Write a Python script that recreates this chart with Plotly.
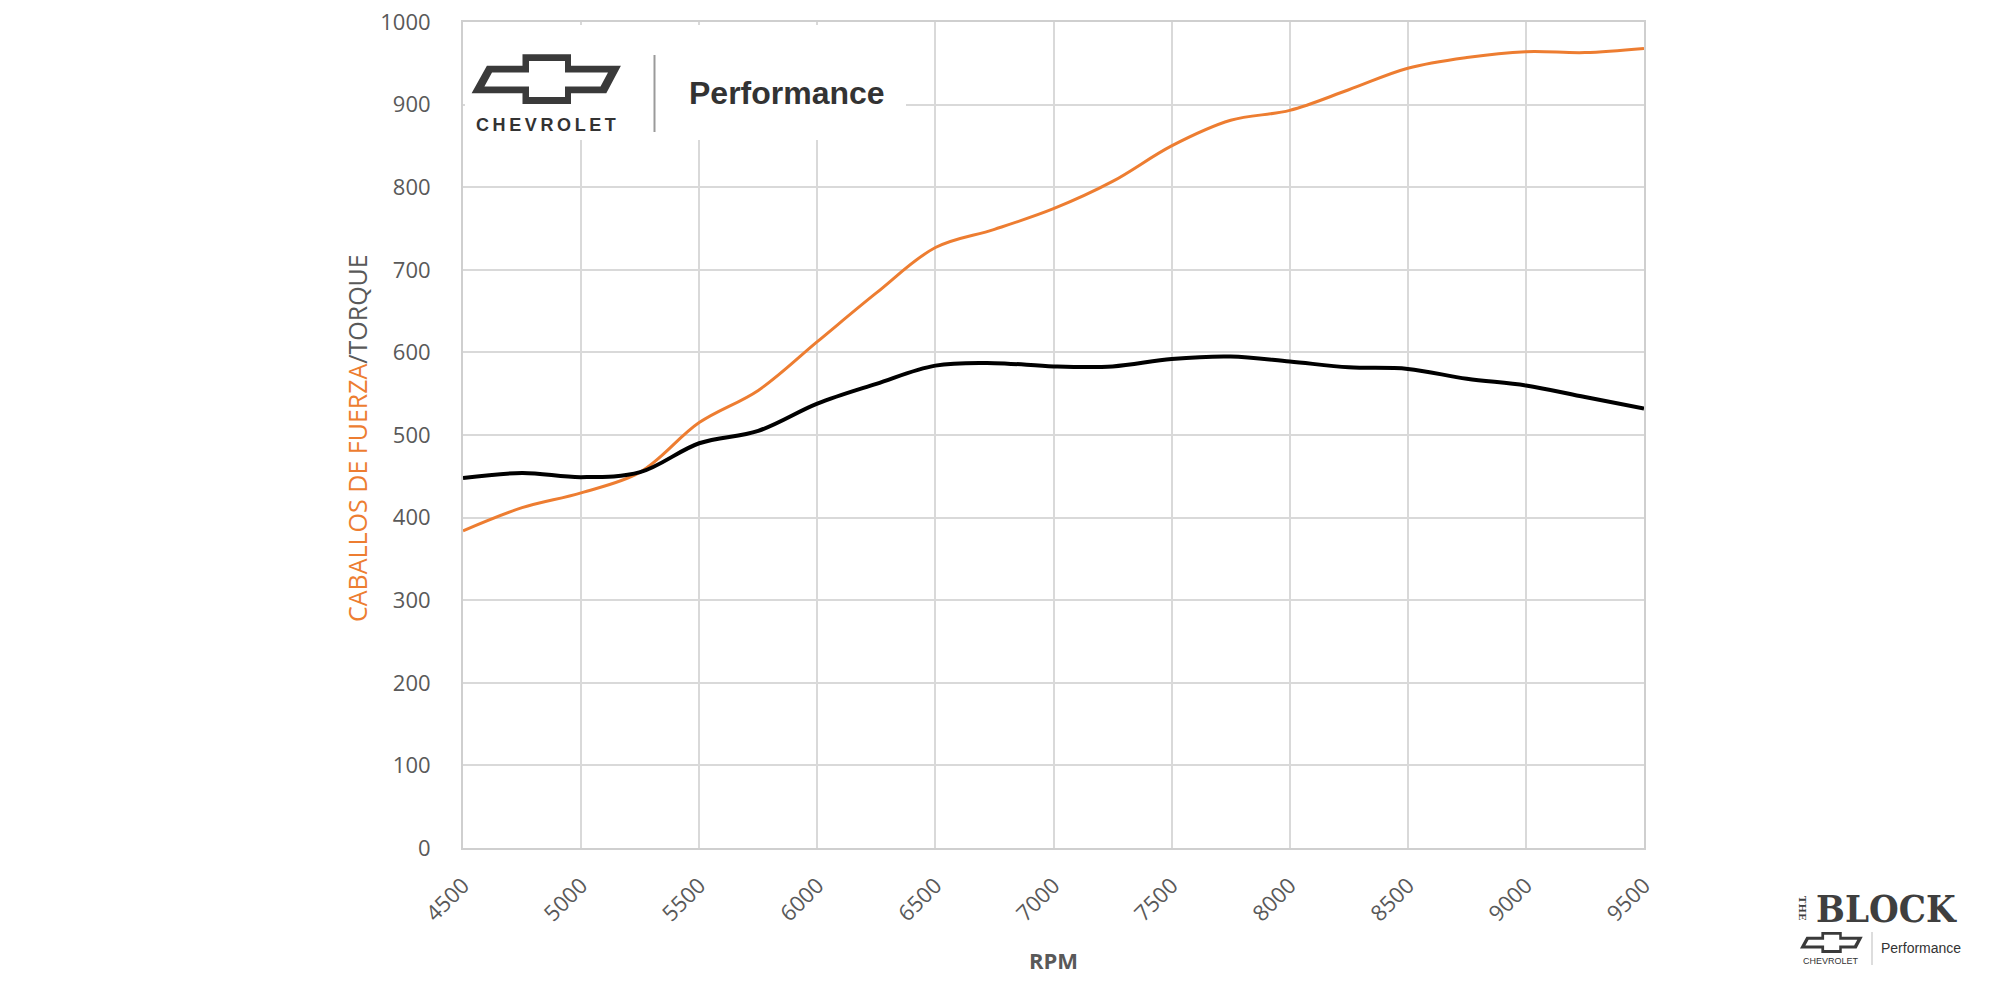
import plotly.graph_objects as go

rpm = [4500, 4750, 5000, 5250, 5500, 5750, 6000, 6250, 6500, 6750, 7000,
       7250, 7500, 7750, 8000, 8250, 8500, 8750, 9000, 9250, 9500]
caballos = [384, 412, 430, 455, 515, 554, 613, 672, 727, 749, 774,
            807, 850, 881, 893, 918, 944, 957, 964, 963, 968]
torque = [448, 454, 449, 455, 490, 505, 538, 562, 584, 587, 583,
          583, 592, 595, 589, 582, 580, 568, 560, 546, 532]
x_ticks = [4500, 5000, 5500, 6000, 6500, 7000, 7500, 8000, 8500, 9000, 9500]
y_ticks = list(range(0, 1001, 100))

ORANGE = "#ED7D31"
GRAY = "#595959"

FW, FH = 2000, 1000
# plot area in page pixels
L, R, T, B = 463, 1644, 22, 848
W, H = R - L, B - T


def px(x):
    return (x - L) / W


def py(y):
    return (B - y) / H


def poly(points, ox, oy, s):
    pts = [(px(ox + a * s), py(oy + b * s)) for a, b in points]
    return "M " + " L ".join(f"{a:.5f},{b:.5f}" for a, b in pts) + " Z"


bow_outer = [(50.9, 0), (99.4, 0), (99.4, 11.4), (149.3, 11.4), (134.7, 39), (99.4, 39),
             (99.4, 49.7), (50.9, 49.7), (50.9, 39), (0, 39), (15.3, 11.4), (50.9, 11.4)]
bow_inner = [(57.4, 6.7), (93.4, 6.7), (93.4, 18.2), (136.4, 18.2), (128.9, 32.2), (93.4, 32.2),
             (93.4, 42.7), (57.4, 42.7), (57.4, 32.2), (12.8, 32.2), (20.4, 18.2), (57.4, 18.2)]

fig = go.Figure()
fig.add_trace(go.Scatter(x=rpm, y=caballos, mode="lines", name="Caballos de fuerza",
                         line=dict(color=ORANGE, width=3, shape="spline", smoothing=1.0)))
fig.add_trace(go.Scatter(x=rpm, y=torque, mode="lines", name="Torque",
                         line=dict(color="#000000", width=4, shape="spline", smoothing=1.0)))

shapes = []
shapes.append(dict(type="rect", xref="paper", yref="paper", x0=px(465), x1=px(906),
                   y0=py(140), y1=py(25), fillcolor="white", line=dict(width=0), layer="above"))
shapes.append(dict(type="path", xref="paper", yref="paper", path=poly(bow_outer, 471.6, 54.3, 1.0),
                   fillcolor="#3a3a3a", line=dict(width=0), layer="above"))
shapes.append(dict(type="path", xref="paper", yref="paper", path=poly(bow_inner, 471.6, 54.3, 1.0),
                   fillcolor="white", line=dict(width=0), layer="above"))
shapes.append(dict(type="line", xref="paper", yref="paper", x0=px(654.5), x1=px(654.5),
                   y0=py(55), y1=py(132), line=dict(color="#9a9a9a", width=2), layer="above"))
ms = 0.42
shapes.append(dict(type="path", xref="paper", yref="paper", path=poly(bow_outer, 1800, 932, ms),
                   fillcolor="#3a3a3a", line=dict(width=0), layer="above"))
shapes.append(dict(type="path", xref="paper", yref="paper", path=poly(bow_inner, 1800, 932, ms),
                   fillcolor="white", line=dict(width=0), layer="above"))
shapes.append(dict(type="line", xref="paper", yref="paper", x0=px(1872), x1=px(1872),
                   y0=py(932), y1=py(965), line=dict(color="#bbbbbb", width=1), layer="above"))

ts = "\u2009"
annotations = [
    dict(text="<span style='color:%s'>CABALLOS DE FUERZA</span><span style='color:%s'>/TORQUE</span>" % (ORANGE, GRAY),
         x=px(357), y=py(438), xref="paper", yref="paper", textangle=-90, showarrow=False,
         xanchor="center", yanchor="middle", font=dict(family="Open Sans", size=25)),
    dict(text="<b>RPM</b>", x=px(1053), y=py(960), xref="paper", yref="paper", showarrow=False,
         xanchor="center", yanchor="middle", font=dict(family="Open Sans", size=22, color=GRAY)),
    dict(text="<b>" + ts.join("CHEVROLET") + "</b>", x=px(546), y=py(125), xref="paper", yref="paper",
         showarrow=False, xanchor="center", yanchor="middle",
         font=dict(family="Liberation Sans", size=18, color="#333333")),
    dict(text="<b>Performance</b>", x=px(687), y=py(93), xref="paper", yref="paper",
         showarrow=False, xanchor="left", yanchor="middle",
         font=dict(family="Liberation Sans", size=32, color="#333333")),
    dict(text="<b>BLOCK</b>", x=px(1814), y=py(908), xref="paper", yref="paper",
         showarrow=False, xanchor="left", yanchor="middle",
         font=dict(family="DejaVu Serif Condensed", size=38, color="#3f3f3f")),
    dict(text="<b>THE</b>", x=px(1803), y=py(908), xref="paper", yref="paper", textangle=90,
         showarrow=False, xanchor="center", yanchor="middle",
         font=dict(family="DejaVu Serif", size=10, color="#3f3f3f")),
    dict(text="CHEVROLET", x=px(1831), y=py(961), xref="paper", yref="paper",
         showarrow=False, xanchor="center", yanchor="middle",
         font=dict(family="Liberation Sans", size=9, color="#333333")),
    dict(text="Performance", x=px(1879), y=py(948), xref="paper", yref="paper",
         showarrow=False, xanchor="left", yanchor="middle",
         font=dict(family="Liberation Sans", size=14, color="#333333")),
]

fig.update_layout(
    width=FW, height=FH,
    margin=dict(l=L, r=FW - R, t=T, b=FH - B, autoexpand=False),
    paper_bgcolor="white", plot_bgcolor="white",
    showlegend=False,
    shapes=shapes, annotations=annotations,
    font=dict(family="Open Sans", color=GRAY),
)
fig.update_xaxes(range=[4500, 9500], tickvals=x_ticks, ticktext=[str(v) for v in x_ticks],
                 tickangle=-45, tickfont=dict(size=22, color=GRAY), showgrid=True,
                 gridcolor="#d9d9d9", gridwidth=1.5, showline=True, linecolor="#cfcfcf",
                 linewidth=2, mirror=True, zeroline=False, ticks="", ticklabelstandoff=14,
                 ticklabeloverflow="allow")
fig.update_yaxes(range=[0, 1000], tickvals=y_ticks, ticktext=[str(v) for v in y_ticks],
                 tickfont=dict(size=22, color=GRAY), showgrid=True,
                 gridcolor="#d9d9d9", gridwidth=1.5, showline=True, linecolor="#cfcfcf",
                 linewidth=2, mirror=True, zeroline=False, ticks="", ticklabelstandoff=26,
                 ticklabeloverflow="allow")

fig.write_html("out.html", config={"displayModeBar": False},
               post_script="document.body.style.margin='0';document.body.style.overflow='hidden';")
